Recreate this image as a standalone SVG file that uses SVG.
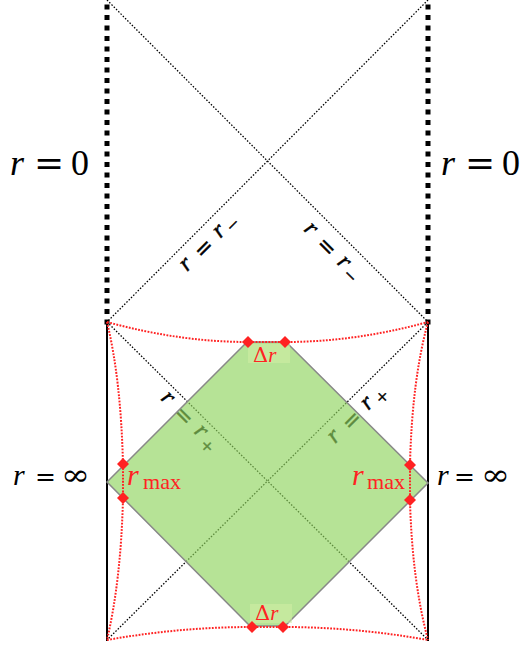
<svg xmlns="http://www.w3.org/2000/svg" width="522" height="646" viewBox="0 0 522 646">
<style>
.m{font-family:"Liberation Serif","DejaVu Serif",serif;fill:#000}
.i{font-style:italic}
.eq{font-family:"DejaVu Serif",serif}
.red{fill:#f22}
.lab{stroke:#000;stroke-width:0.5}
.thick{stroke:#000;stroke-width:5;stroke-dasharray:5 5.5;fill:none}
.solid{stroke:#000;stroke-width:2;fill:none}
.thin{stroke:#000;stroke-width:1.3;stroke-dasharray:1.5 1.7;fill:none}
.rc{stroke:#f22;stroke-width:2;stroke-dasharray:1.8 1.4;fill:none}
</style>
<defs>
<path id="dm" d="M0,-6 L6,0 0,6 -6,0Z" fill="#f22"/>
</defs>
<rect width="522" height="646" fill="#fff"/>
<g id="connectors">
<path class="thick" d="M107,324.5 V0"/>
<path class="thick" d="M428,324.5 V0"/>
<path class="solid" d="M107,322 V641"/>
<path class="solid" d="M428,322 V641"/>
<path class="thin" d="M107,0 L428,322"/>
<path class="thin" d="M428,0 L107,322"/>
<path class="thin" d="M107,322 L428,640"/>
<path class="thin" d="M428,322 L107,640"/>
</g>
<g id="label-r-rplus-left" class="m lab" font-size="24" transform="translate(167,399) rotate(45)">
<text x="-5" y="5" class="i">r</text>
<text class="eq" x="14.5" y="7" font-size="22">=</text>
<text x="42" y="5" class="i">r</text>
<text x="56" y="12" font-size="21">+</text>
</g>
<g id="label-r-rplus-right" class="m lab" font-size="24" transform="translate(335,437) rotate(-45)">
<text x="-5" y="5" class="i">r</text>
<text class="eq" x="14.5" y="7" font-size="22">=</text>
<text x="42" y="5" class="i">r</text>
<text x="56" y="12" font-size="21">+</text>
</g>
<g id="region">
<polygon points="107,482 247,342 286,342 428,483 285,626 250,626" fill="#8fd45e" fill-opacity="0.65" stroke="#888" stroke-width="1.5"/>
<rect x="248" y="344" width="42" height="19" fill="#d2eea6" fill-opacity="0.55"/>
<rect x="250" y="604" width="42" height="19" fill="#d2eea6" fill-opacity="0.55"/>
</g>
<g id="cutoff">
<path class="rc" d="M107,322 Q180,342 248,342 H285 Q355,342 428,322"/>
<path class="rc" d="M107,640 Q180,627 252,627 H283 Q355,627 428,640"/>
<path class="rc" d="M107,322 Q121,380 123,465 V498 Q121,580 107,640"/>
<path class="rc" d="M428,322 Q412,380 410,465 V500 Q412,580 428,640"/>
<use href="#dm" x="248" y="342"/>
<use href="#dm" x="285" y="342"/>
<use href="#dm" x="252" y="627"/>
<use href="#dm" x="283" y="627"/>
<use href="#dm" x="123" y="464"/>
<use href="#dm" x="123" y="498"/>
<use href="#dm" x="410" y="465"/>
<use href="#dm" x="410" y="500"/>
</g>
<g id="label-r-rminus-left" class="m lab" font-size="24" transform="translate(187,265) rotate(-45)">
<text x="-5" y="5" class="i">r</text>
<text class="eq" x="14.5" y="7" font-size="22">=</text>
<text x="42" y="5" class="i">r</text>
<text x="55" y="11" font-size="21">−</text>
</g>
<g id="label-r-rminus-right" class="m lab" font-size="24" transform="translate(310,230) rotate(45)">
<text x="-5" y="5" class="i">r</text>
<text class="eq" x="14.5" y="7" font-size="22">=</text>
<text x="42" y="5" class="i">r</text>
<text x="55" y="11" font-size="21">−</text>
</g>
<g id="label-r0-left" class="m">
<text x="10" y="175" font-size="36" class="i">r</text>
<text x="34" y="175" font-size="36" class="eq">=</text>
<text x="71" y="175" font-size="36">0</text>
</g>
<g id="label-r0-right" class="m">
<text x="441" y="175" font-size="36" class="i">r</text>
<text x="465" y="175" font-size="36" class="eq">=</text>
<text x="502" y="175" font-size="36">0</text>
</g>
<g id="label-rinf-left" class="m">
<text x="13" y="485" font-size="30" class="i">r</text>
<text x="35" y="485" font-size="25" class="eq">=</text>
<text x="61" y="485" font-size="30" class="eq" textLength="29" lengthAdjust="spacingAndGlyphs">∞</text>
</g>
<g id="label-rinf-right" class="m">
<text x="437" y="485" font-size="30" class="i">r</text>
<text x="454" y="485" font-size="25" class="eq">=</text>
<text x="481" y="485" font-size="30" class="eq" textLength="29" lengthAdjust="spacingAndGlyphs">∞</text>
</g>
<g id="label-rmax-left" class="m red">
<text x="127" y="485" font-size="30" class="i red">r</text>
<text x="143" y="489" font-size="21" class="red" textLength="38" lengthAdjust="spacingAndGlyphs">max</text>
</g>
<g id="label-rmax-right" class="m red">
<text x="352" y="485" font-size="30" class="i red">r</text>
<text x="367" y="489" font-size="21" class="red" textLength="38" lengthAdjust="spacingAndGlyphs">max</text>
</g>
<g id="label-dr-top" class="m red">
<text x="253" y="362" font-size="21" class="red"><tspan class="eq">Δ</tspan><tspan class="i">r</tspan></text>
</g>
<g id="label-dr-bottom" class="m red">
<text x="255" y="620" font-size="21" class="red"><tspan class="eq">Δ</tspan><tspan class="i">r</tspan></text>
</g>
</svg>
